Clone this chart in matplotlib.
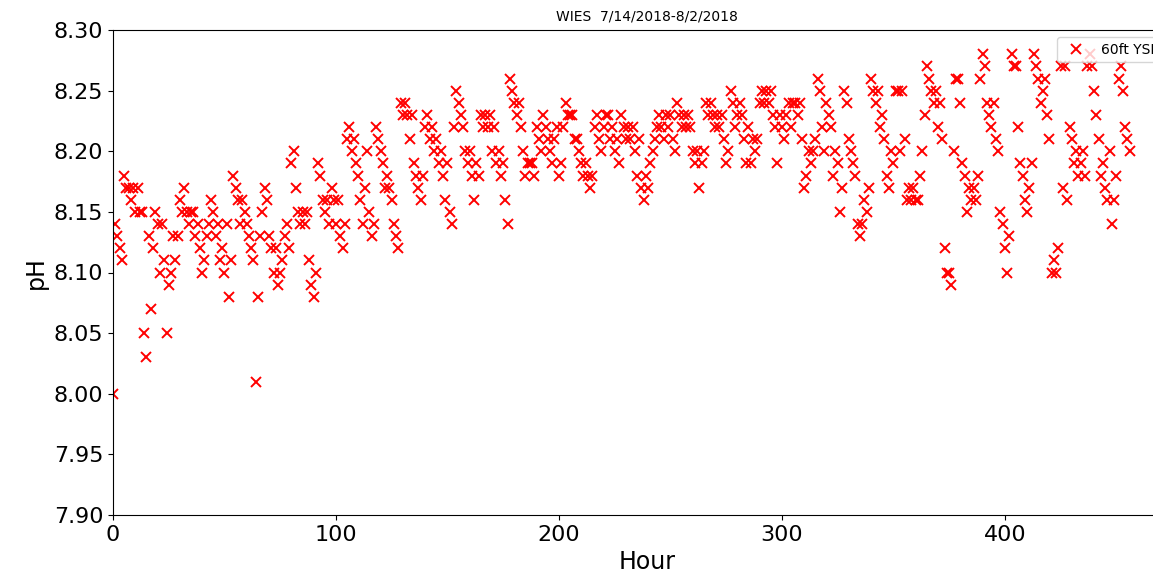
import numpy as np
import matplotlib
matplotlib.use("Agg")
import matplotlib.pyplot as plt
from matplotlib.ticker import FormatStrFormatter

# Hourly pH readings from the 60 ft YSI sonde, WIES station, 7/14/2018 - 8/2/2018
ph_60ft = [
    8.00, 8.14, 8.13, 8.12, 8.11, 8.18, 8.17, 8.17, 8.16, 8.17,
    8.15, 8.17, 8.15, 8.15, 8.05, 8.03, 8.13, 8.07, 8.12, 8.15,
    8.14, 8.10, 8.14, 8.11, 8.05, 8.09, 8.10, 8.13, 8.11, 8.13,
    8.16, 8.15, 8.17, 8.15, 8.14, 8.15, 8.15, 8.13, 8.14, 8.12,
    8.10, 8.11, 8.13, 8.14, 8.16, 8.15, 8.13, 8.14, 8.11, 8.12,
    8.10, 8.14, 8.08, 8.11, 8.18, 8.17, 8.16, 8.14, 8.16, 8.15,
    8.14, 8.13, 8.12, 8.11, 8.01, 8.08, 8.13, 8.15, 8.17, 8.16,
    8.13, 8.12, 8.10, 8.12, 8.09, 8.10, 8.11, 8.13, 8.14, 8.12,
    8.19, 8.20, 8.17, 8.15, 8.14, 8.15, 8.14, 8.15, 8.11, 8.09,
    8.08, 8.10, 8.19, 8.18, 8.16, 8.15, 8.16, 8.14, 8.17, 8.16,
    8.14, 8.16, 8.13, 8.12, 8.14, 8.21, 8.22, 8.20, 8.21, 8.19,
    8.18, 8.16, 8.14, 8.17, 8.20, 8.15, 8.13, 8.14, 8.22, 8.21,
    8.20, 8.19, 8.17, 8.18, 8.17, 8.16, 8.14, 8.13, 8.12, 8.24,
    8.23, 8.24, 8.23, 8.21, 8.23, 8.19, 8.18, 8.17, 8.16, 8.18,
    8.22, 8.23, 8.21, 8.22, 8.20, 8.21, 8.19, 8.20, 8.18, 8.16,
    8.19, 8.15, 8.14, 8.22, 8.25, 8.24, 8.23, 8.22, 8.20, 8.19,
    8.20, 8.18, 8.16, 8.19, 8.18, 8.23, 8.22, 8.23, 8.22, 8.23,
    8.20, 8.22, 8.19, 8.20, 8.18, 8.19, 8.16, 8.14, 8.26, 8.25,
    8.24, 8.23, 8.24, 8.22, 8.20, 8.18, 8.19, 8.19, 8.19, 8.18,
    8.22, 8.21, 8.20, 8.23, 8.22, 8.21, 8.20, 8.19, 8.21, 8.22,
    8.18, 8.19, 8.22, 8.24, 8.23, 8.23, 8.23, 8.21, 8.21, 8.20,
    8.19, 8.18, 8.19, 8.18, 8.17, 8.18, 8.22, 8.23, 8.21, 8.20,
    8.22, 8.23, 8.23, 8.21, 8.22, 8.20, 8.21, 8.19, 8.23, 8.22,
    8.21, 8.22, 8.21, 8.22, 8.20, 8.18, 8.21, 8.17, 8.16, 8.18,
    8.17, 8.19, 8.20, 8.21, 8.22, 8.23, 8.22, 8.21, 8.23, 8.22,
    8.23, 8.21, 8.20, 8.24, 8.23, 8.22, 8.23, 8.22, 8.23, 8.22,
    8.20, 8.19, 8.20, 8.17, 8.19, 8.20, 8.24, 8.23, 8.24, 8.23,
    8.22, 8.23, 8.22, 8.23, 8.21, 8.19, 8.20, 8.25, 8.24, 8.22,
    8.23, 8.24, 8.23, 8.21, 8.19, 8.22, 8.19, 8.21, 8.20, 8.21,
    8.24, 8.25, 8.24, 8.25, 8.24, 8.25, 8.23, 8.22, 8.19, 8.23,
    8.22, 8.21, 8.23, 8.24, 8.22, 8.24, 8.24, 8.23, 8.24, 8.21,
    8.17, 8.18, 8.20, 8.19, 8.20, 8.21, 8.26, 8.25, 8.22, 8.20,
    8.24, 8.23, 8.22, 8.18, 8.20, 8.19, 8.15, 8.17, 8.25, 8.24,
    8.21, 8.20, 8.19, 8.18, 8.14, 8.13, 8.14, 8.16, 8.15, 8.17,
    8.26, 8.25, 8.24, 8.25, 8.22, 8.23, 8.21, 8.18, 8.17, 8.20,
    8.19, 8.25, 8.25, 8.20, 8.25, 8.21, 8.16, 8.17, 8.16, 8.17,
    8.16, 8.16, 8.18, 8.20, 8.23, 8.27, 8.26, 8.25, 8.24, 8.25,
    8.22, 8.24, 8.21, 8.12, 8.10, 8.10, 8.09, 8.20, 8.26, 8.26,
    8.24, 8.19, 8.18, 8.15, 8.17, 8.16, 8.17, 8.16, 8.18, 8.26,
    8.28, 8.27, 8.24, 8.23, 8.22, 8.24, 8.21, 8.20, 8.15, 8.14,
    8.12, 8.10, 8.13, 8.28, 8.27, 8.27, 8.22, 8.19, 8.18, 8.16,
    8.15, 8.17, 8.19, 8.28, 8.27, 8.26, 8.24, 8.25, 8.26, 8.23,
    8.21, 8.10, 8.11, 8.10, 8.12, 8.27, 8.17, 8.27, 8.16, 8.22,
    8.21, 8.19, 8.20, 8.18, 8.19, 8.20, 8.18, 8.27, 8.28, 8.27,
    8.25, 8.23, 8.21, 8.18, 8.19, 8.17, 8.16, 8.20, 8.14, 8.16,
    8.18, 8.26, 8.27, 8.25, 8.22, 8.21, 8.20,
]
hours = np.arange(len(ph_60ft))

y_ticks = [7.90, 7.95, 8.00, 8.05, 8.10, 8.15, 8.20, 8.25, 8.30]
x_ticks = [0, 100, 200, 300, 400]

fig = plt.figure(figsize=(11.53, 5.79), dpi=100)
ax = fig.add_axes([113 / 1153, 64 / 579, 1068 / 1153, 485 / 579])

ax.plot(hours, ph_60ft, linestyle="none", marker="x", color="red",
        markersize=7, markeredgewidth=1.4, label="60ft YSI")

ax.set_xlim(0, 479)
ax.set_ylim(7.90, 8.30)
ax.set_xticks(x_ticks)
ax.set_yticks(y_ticks)
ax.yaxis.set_major_formatter(FormatStrFormatter("%.2f"))
ax.tick_params(labelsize=16)

ax.set_xlabel("Hour", fontsize=17)
ax.set_ylabel("pH", fontsize=17)
ax.set_title("WIES  7/14/2018-8/2/2018", fontsize=10, pad=7)
ax.legend(loc="upper right", bbox_to_anchor=(0.987, 1.0), fontsize=10)

fig.savefig("out.png", dpi=100)
